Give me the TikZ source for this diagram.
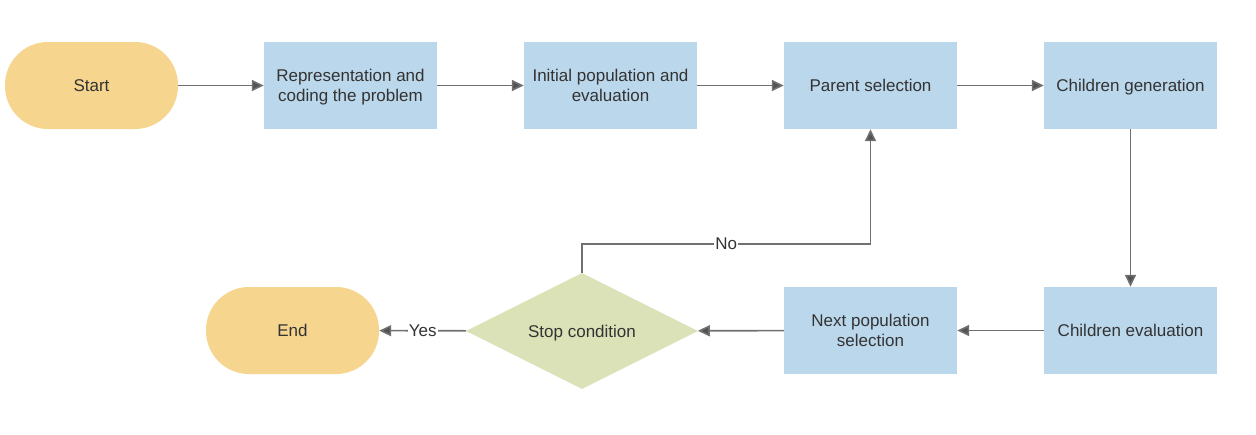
\documentclass[tikz,border=0pt]{standalone}
\usepackage{fontspec}
\setmainfont{Liberation Sans}
\usepackage{tikz}
\usetikzlibrary{shapes,positioning,arrows.meta}
\definecolor{pillcol}{HTML}{F6D58E}
\definecolor{boxcol}{HTML}{BBD7EB}
\definecolor{diacol}{HTML}{DBE2B8}
\definecolor{linecol}{HTML}{707070}
\definecolor{textcol}{HTML}{333333}
\tikzset{
	pill/.style={rectangle, rounded corners=43pt, fill=pillcol, minimum width=173pt, minimum height=87pt, text=textcol},
	stepbox/.style={rectangle, fill=boxcol, minimum width=173pt, minimum height=87pt, align=center, text=textcol, text depth=0pt},
	decision/.style={diamond, fill=diacol, minimum width=232pt, minimum height=116pt, aspect=2, inner sep=0pt, text=textcol, text depth=0pt},
	link/.style={draw=linecol, line width=1.6pt, -{Triangle[length=12pt, width=11pt, fill=black!68]}},
	tag/.style={fill=white, inner sep=1pt, text=textcol}
}
\begin{document}
\begin{tikzpicture}[x=1pt, y=-1pt, font=\fontsize{17}{20}\selectfont]
			\useasboundingbox (0,0) rectangle (1256,434);
			\node[pill] (start) at (91.5,85.5) {Start};
			\node[stepbox] (repr) at (350.5,85.5) {Representation and\\coding the problem};
			\node[stepbox] (init) at (610.5,85.5) {Initial population and\\evaluation};
			\node[stepbox] (parent) at (870.5,85.5) {Parent selection};
			\node[stepbox] (child) at (1130.5,85.5) {Children generation};
			\node[stepbox] (cheval) at (1130.5,330.5) {Children evaluation};
			\node[stepbox] (nextpop) at (870.5,330.5) {Next population\\selection};
			\node[decision] (stop) at (582,331) {Stop condition};
			\node[pill] (end) at (292.5,330.5) {End};
			\coordinate (turn) at (870.5,244);
			\draw[link] (start) -- (repr);
			\draw[link] (repr) -- (init);
			\draw[link] (init) -- (parent);
			\draw[link] (parent) -- (child);
			\draw[link] (child) -- (cheval);
			\draw[link] (cheval) -- (nextpop);
			\draw[link] (nextpop) -- (stop);
			\draw[link] (stop) -- node[tag] {Yes} (end);
			\draw[link] (stop.north) |- node[tag, pos=0.75] {No} (turn) -- (parent.south);
\end{tikzpicture}
\end{document}
